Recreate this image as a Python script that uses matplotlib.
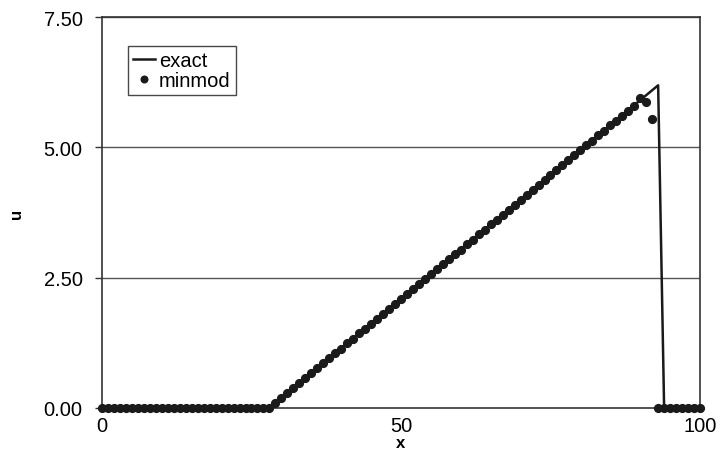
import numpy as np
import matplotlib
matplotlib.use("Agg")
import matplotlib.pyplot as plt
from matplotlib.ticker import FormatStrFormatter

plt.rcParams['font.family'] = ['Liberation Sans', 'DejaVu Sans']

# exact solution: piecewise linear ramp with a shock
x_exact = [0, 28, 93, 94, 100]
u_exact = [0.0, 0.0, 6.19, 0.0, 0.0]

# minmod scheme, one value per grid point x = 0..100
x_minmod = list(range(0, 101))
u_minmod = ([0.0] * 29 +
            [0.10, 0.19, 0.29, 0.38, 0.48, 0.57, 0.67, 0.76, 0.86, 0.95,
             1.05, 1.14, 1.24, 1.33, 1.43, 1.52, 1.62, 1.71, 1.81, 1.90,
             2.00, 2.09, 2.19, 2.28, 2.38, 2.47, 2.57, 2.66, 2.76, 2.85,
             2.95, 3.04, 3.14, 3.23, 3.33, 3.42, 3.52, 3.61, 3.71, 3.80,
             3.90, 3.99, 4.09, 4.18, 4.28, 4.37, 4.47, 4.56, 4.66, 4.75,
             4.85, 4.94, 5.04, 5.13, 5.23, 5.32, 5.42, 5.51, 5.61, 5.70,
             5.80, 5.95, 5.87, 5.55] +
            [0.0] * 8)

x_ticks = [0, 50, 100]
y_ticks = [0.0, 2.5, 5.0, 7.5]

fig = plt.figure(figsize=(7.23, 4.77), dpi=100)
ax = fig.add_axes([102 / 723, 1 - 409 / 477, 598 / 723, 391 / 477])

ax.set_xlim(0, 100)
ax.set_ylim(0, 7.5)

for yv in y_ticks[1:]:
    ax.axhline(yv, color='#555555', lw=1.0, zorder=1)

ax.plot(x_exact, u_exact, color='#1a1a1a', lw=1.8, label='exact', zorder=2)
ax.plot(x_minmod, u_minmod, ls='none', marker='o', ms=5.6,
        color='#1a1a1a', label='minmod', zorder=3, clip_on=False)

ax.set_xticks(x_ticks)
ax.set_yticks(y_ticks)
ax.yaxis.set_major_formatter(FormatStrFormatter('%.2f'))
ax.tick_params(axis='y', direction='out', length=5, width=1, pad=9,
               labelsize=14.5, color='#333333')
ax.tick_params(axis='x', length=0, pad=6, labelsize=14.5)

for s in ax.spines.values():
    s.set_color('#333333')
    s.set_linewidth(1.2)

ax.set_xlabel('x', fontsize=12, fontweight='bold', labelpad=0)
ax.set_ylabel('u', fontsize=12, fontweight='bold', labelpad=14)

leg = ax.legend(loc='upper left', bbox_to_anchor=(0.043, 0.925),
                fontsize=14.5, frameon=True, fancybox=False, handlelength=1.1,
                handletextpad=0.2, borderpad=0.25, labelspacing=0.05,
                borderaxespad=0, markerscale=0.85)
leg.get_frame().set_edgecolor('#1a1a1a')
leg.get_frame().set_linewidth(1.0)

fig.savefig('out.png', dpi=100)
